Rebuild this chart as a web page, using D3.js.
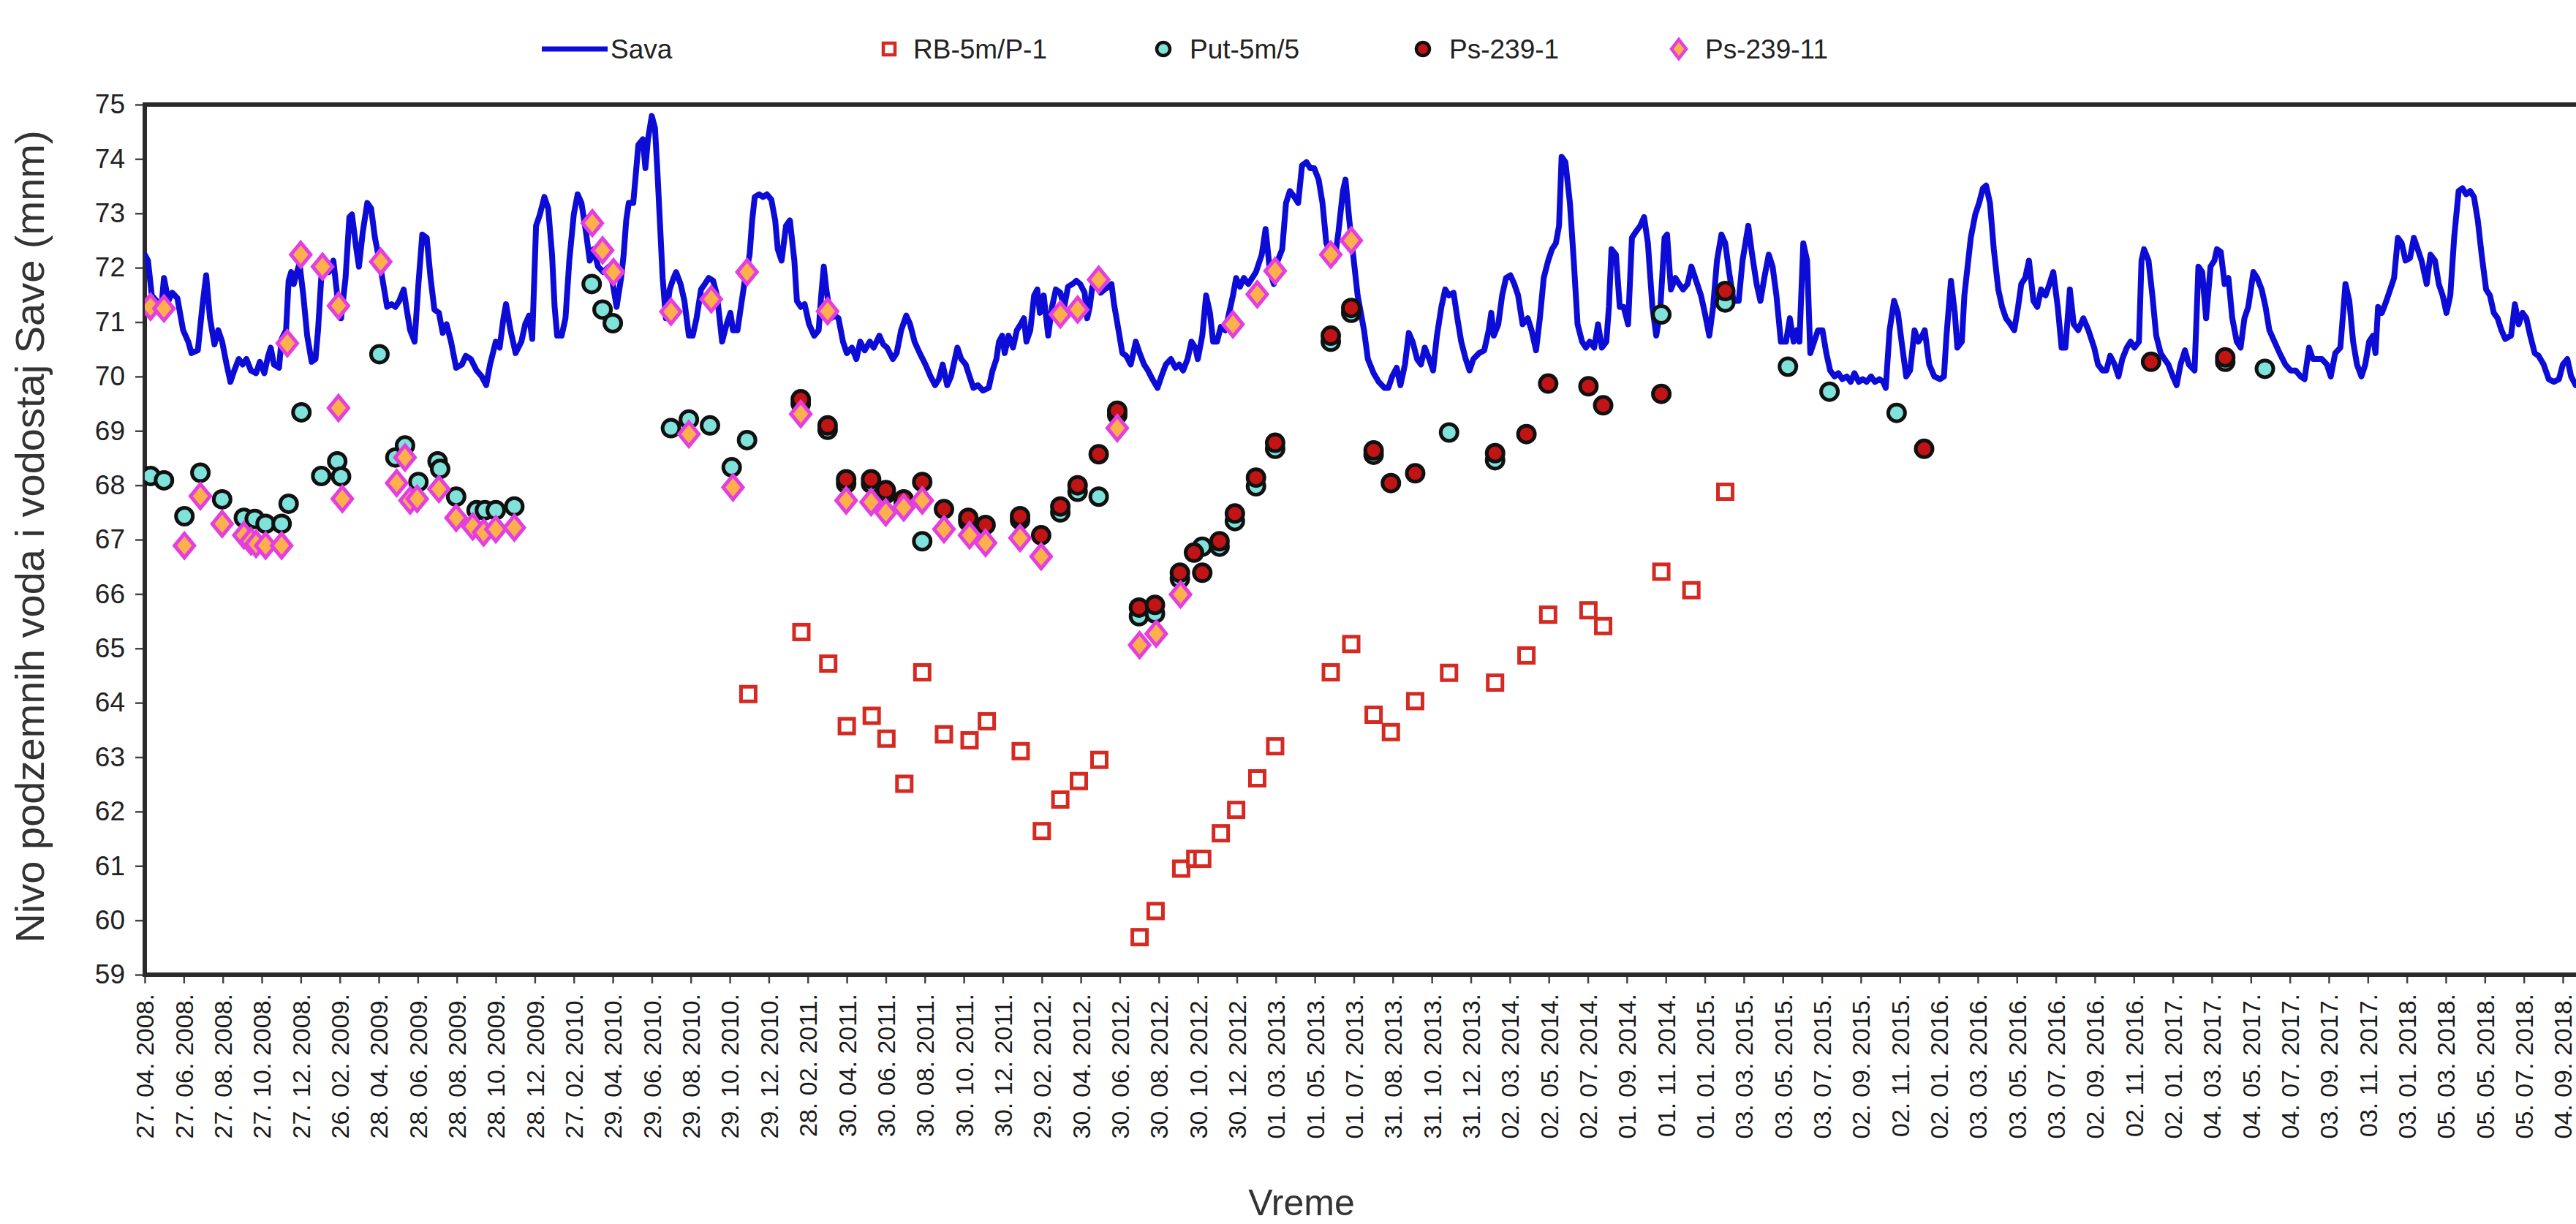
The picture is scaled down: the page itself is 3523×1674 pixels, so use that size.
<!DOCTYPE html>
<html><head><meta charset="utf-8">
<script src="https://cdn.jsdelivr.net/npm/d3@7"></script>
<style>html,body{margin:0;padding:0;background:#fff;overflow:hidden}</style>
</head><body><svg id="chart" width="3523" height="1674"></svg>
<script>
// day offsets are days since the first axis date, 27. 04. 2008.
const START_DATE = "27. 04. 2008.";
const tickLabels = ["27. 04. 2008.","27. 06. 2008.","27. 08. 2008.","27. 10. 2008.","27. 12. 2008.",
"26. 02. 2009.","28. 04. 2009.","28. 06. 2009.","28. 08. 2009.","28. 10. 2009.","28. 12. 2009.",
"27. 02. 2010.","29. 04. 2010.","29. 06. 2010.","29. 08. 2010.","29. 10. 2010.","29. 12. 2010.",
"28. 02. 2011.","30. 04. 2011.","30. 06. 2011.","30. 08. 2011.","30. 10. 2011.","30. 12. 2011.",
"29. 02. 2012.","30. 04. 2012.","30. 06. 2012.","30. 08. 2012.","30. 10. 2012.","30. 12. 2012.",
"01. 03. 2013.","01. 05. 2013.","01. 07. 2013.","31. 08. 2013.","31. 10. 2013.","31. 12. 2013.",
"02. 03. 2014.","02. 05. 2014.","02. 07. 2014.","01. 09. 2014.","01. 11. 2014.",
"01. 01. 2015.","03. 03. 2015.","03. 05. 2015.","03. 07. 2015.","02. 09. 2015.","02. 11. 2015.",
"02. 01. 2016.","03. 03. 2016.","03. 05. 2016.","03. 07. 2016.","02. 09. 2016.","02. 11. 2016.",
"02. 01. 2017.","04. 03. 2017.","04. 05. 2017.","04. 07. 2017.","03. 09. 2017.","03. 11. 2017.",
"03. 01. 2018.","05. 03. 2018.","05. 05. 2018.","05. 07. 2018.","04. 09. 2018."];
const yTicks = [59,60,61,62,63,64,65,66,67,68,69,70,71,72,73,74,75];
const seriesNames = ["Sava","RB-5m/P-1","Put-5m/5","Ps-239-1","Ps-239-11"];

// Sava river level [day, m]
const sava = [[0,72.24],[5,72.13],[11,71.49],[26,71.28],[30,71.81],[37,71.39],[43,71.54],[51,71.44],[60,70.85],[68,70.64],[73,70.43],[83,70.48],[90,71.28],[96,71.86],[102,71.07],[109,70.59],[115,70.85],[121,70.64],[128,70.22],[134,69.9],[140,70.11],[147,70.32],[153,70.22],[159,70.32],[166,70.11],[174,70.06],[180,70.27],[187,70.06],[193,70.38],[197,70.53],[202,70.22],[210,70.16],[214,70.69],[221,70.85],[225,71.76],[229,71.92],[233,71.7],[238,71.92],[242,72.08],[248,71.49],[254,70.75],[261,70.27],[267,70.32],[271,70.85],[276,71.81],[282,72.02],[288,71.92],[295,72.13],[301,71.49],[307,71.07],[314,71.81],[320,72.93],[324,72.98],[331,72.34],[335,72.02],[341,72.66],[348,73.19],[354,73.09],[360,72.55],[367,72.13],[373,71.7],[379,71.28],[386,71.33],[392,71.28],[398,71.39],[405,71.6],[409,71.28],[415,70.85],[422,70.64],[428,71.7],[434,72.61],[441,72.55],[447,71.81],[453,71.23],[460,71.17],[466,70.8],[472,70.96],[479,70.64],[487,70.16],[496,70.22],[502,70.38],[510,70.32],[519,70.11],[527,70.0],[534,69.84],[540,70.22],[549,70.64],[555,70.53],[561,71.07],[565,71.33],[572,70.85],[580,70.43],[589,70.64],[595,70.96],[601,71.12],[606,70.69],[612,72.77],[618,72.98],[625,73.3],[631,73.09],[637,72.24],
[641,71.28],[645,70.75],[652,70.75],[658,71.07],[664,72.13],[671,72.98],[677,73.35],[683,73.19],[690,72.66],[696,72.13],[702,72.34],[709,72.02],[717,71.92],[726,72.02],[732,71.7],[738,71.28],[745,71.81],[749,72.24],[753,72.87],[757,73.19],[764,73.19],[768,73.72],[772,74.26],[779,74.36],[783,73.83],[787,74.36],[793,74.79],[798,74.57],[802,73.72],[806,72.77],[810,71.81],[815,71.07],[821,71.6],[827,71.81],[831,71.92],[838,71.7],[844,71.39],[851,70.75],[857,70.75],[863,71.07],[870,71.6],[876,71.7],[882,71.81],[889,71.76],[895,71.49],[899,71.07],[903,70.64],[910,70.96],[916,71.17],[920,70.85],[927,70.85],[931,71.17],[935,71.49],[939,71.81],[946,72.24],[950,72.87],[954,73.3],[961,73.35],[967,73.3],[973,73.35],[980,73.25],[986,72.87],[990,72.34],[996,72.13],[1003,72.77],[1009,72.87],[1016,72.13],[1020,71.39],[1026,71.28],[1032,71.33],[1039,70.96],[1047,70.75],[1054,70.85],[1058,71.49],[1062,72.02],[1066,71.6],[1073,71.07],[1079,71.12],[1085,71.07],[1092,70.64],[1098,70.43],[1106,70.53],[1113,70.32],[1119,70.64],[1126,70.48],[1134,70.64],[1140,70.53],[1149,70.75],[1155,70.59],[1161,70.53],[1170,70.32],[1176,70.43],[1183,70.85],[1191,71.12],[1197,70.96],[1204,70.64],[1212,70.43],[1221,70.22],[1229,70.0],[1236,69.84],[1242,69.95],[1248,70.22],[1255,69.84],[1261,70.0],
[1267,70.32],[1271,70.53],[1277,70.32],[1284,70.22],[1290,70.0],[1296,69.79],[1303,69.84],[1311,69.74],[1320,69.79],[1326,70.11],[1332,70.32],[1336,70.64],[1341,70.75],[1345,70.43],[1351,70.75],[1358,70.53],[1364,70.85],[1370,70.96],[1375,71.07],[1379,70.64],[1385,70.85],[1391,71.49],[1396,71.6],[1400,71.17],[1406,71.49],[1413,70.75],[1419,71.28],[1425,71.6],[1432,71.54],[1438,71.28],[1444,71.65],[1451,71.7],[1457,71.76],[1463,71.7],[1470,71.54],[1474,71.07],[1478,71.28],[1482,71.65],[1489,71.7],[1495,71.54],[1501,71.6],[1508,71.65],[1512,71.7],[1516,71.33],[1523,70.85],[1529,70.43],[1535,70.38],[1542,70.22],[1550,70.64],[1556,70.43],[1563,70.22],[1569,70.11],[1576,69.95],[1584,69.79],[1590,70.0],[1597,70.22],[1605,70.32],[1612,70.16],[1618,70.22],[1624,70.11],[1631,70.32],[1637,70.64],[1643,70.53],[1647,70.32],[1654,70.75],[1660,71.49],[1666,71.17],[1671,70.64],[1677,70.64],[1683,70.91],[1690,70.85],[1696,71.17],[1702,71.49],[1707,71.81],[1713,71.65],[1719,71.81],[1726,71.7],[1732,71.81],[1738,71.92],[1747,72.24],[1753,72.71],[1760,71.92],[1766,71.7],[1772,72.13],[1779,72.34],[1785,73.19],[1791,73.41],[1798,73.3],[1804,73.19],[1810,73.88],[1817,73.94],[1823,73.83],[1829,73.83],[1836,73.62],[1842,73.19],[1848,72.45],[1855,72.24],[1861,72.13],[1867,72.66],[1874,73.41],[1878,73.62],[1884,72.87],[1891,72.13],[1897,71.49],
[1907,70.85],[1913,70.32],[1922,70.06],[1930,69.9],[1939,69.79],[1945,69.79],[1951,70.0],[1958,70.16],[1964,69.84],[1971,70.22],[1977,70.8],[1983,70.64],[1990,70.32],[1996,70.22],[2002,70.53],[2009,70.32],[2015,70.11],[2021,70.75],[2028,71.28],[2034,71.6],[2040,71.49],[2047,71.54],[2053,71.07],[2059,70.64],[2066,70.32],[2072,70.11],[2078,70.32],[2087,70.43],[2095,70.48],[2102,70.85],[2106,71.17],[2110,70.75],[2117,70.96],[2123,71.49],[2129,71.81],[2136,71.86],[2142,71.7],[2148,71.49],[2155,70.96],[2163,71.07],[2169,70.85],[2176,70.48],[2182,71.07],[2188,71.81],[2195,72.13],[2201,72.34],[2207,72.45],[2212,72.77],[2216,74.04],[2222,73.94],[2229,73.19],[2235,72.13],[2241,70.96],[2248,70.64],[2254,70.53],[2260,70.64],[2267,70.53],[2273,70.96],[2279,70.53],[2286,70.64],[2290,71.28],[2294,72.34],[2301,72.24],[2307,71.28],[2313,71.28],[2320,70.96],[2326,72.55],[2332,72.66],[2339,72.77],[2345,72.93],[2351,72.45],[2358,71.28],[2364,70.75],[2370,71.17],[2377,72.55],[2381,72.61],[2387,71.6],[2394,71.81],[2400,71.7],[2406,71.6],[2413,71.7],[2419,72.02],[2425,71.81],[2434,71.49],[2440,71.17],[2447,70.75],[2453,71.28],[2459,72.13],[2466,72.61],[2472,72.45],[2478,71.92],[2485,71.39],[2493,71.39],[2499,72.13],[2508,72.77],[2514,72.24],[2521,71.7],[2527,71.39],[2533,71.81],[2540,72.24],[2546,72.02],[2552,71.49],[2559,70.64],
[2567,70.64],[2573,71.07],[2579,70.64],[2584,70.85],[2588,70.64],[2594,72.45],[2600,72.13],[2605,70.43],[2611,70.64],[2617,70.85],[2624,70.85],[2630,70.43],[2636,70.11],[2643,70.0],[2649,70.06],[2655,69.95],[2662,70.0],[2668,69.9],[2674,70.06],[2681,69.9],[2687,69.95],[2693,69.9],[2700,70.0],[2706,69.9],[2713,69.95],[2719,69.9],[2723,69.79],[2729,70.85],[2736,71.39],[2742,71.17],[2749,70.53],[2755,70.0],[2761,70.11],[2768,70.85],[2774,70.64],[2780,70.75],[2784,70.85],[2791,70.22],[2799,70.0],[2808,69.95],[2814,70.0],[2818,70.75],[2825,71.76],[2831,71.17],[2835,70.53],[2842,70.64],[2846,71.49],[2852,72.13],[2856,72.55],[2863,72.98],[2869,73.19],[2875,73.46],[2880,73.51],[2886,73.19],[2892,72.34],[2899,71.6],[2905,71.28],[2911,71.07],[2918,70.96],[2924,70.85],[2930,71.28],[2935,71.7],[2941,71.81],[2947,72.13],[2954,71.39],[2960,71.28],[2966,71.6],[2973,71.49],[2979,71.7],[2985,71.92],[2992,71.28],[2998,70.53],[3004,70.53],[3011,71.6],[3017,70.96],[3024,70.85],[3032,71.07],[3040,70.85],[3049,70.53],[3055,70.22],[3062,70.11],[3068,70.11],[3074,70.38],[3081,70.22],[3087,70.0],[3093,70.32],[3100,70.53],[3106,70.64],[3112,70.53],[3119,70.64],[3123,72.13],[3127,72.34],[3134,72.13],[3140,71.49],[3146,70.75],[3153,70.43],[3159,70.32],[3165,70.22],[3172,70.0],[3178,69.84],[3184,70.22],[3191,70.48],[3197,70.22],
[3206,70.11],[3212,72.02],[3218,71.92],[3224,71.07],[3231,72.02],[3237,72.13],[3241,72.34],[3247,72.29],[3253,71.7],[3259,71.81],[3265,71.07],[3272,70.64],[3278,70.53],[3284,71.07],[3290,71.28],[3298,71.92],[3304,71.81],[3311,71.6],[3317,71.28],[3323,70.85],[3331,70.64],[3339,70.43],[3348,70.22],[3356,70.11],[3364,70.11],[3372,70.0],[3378,69.95],[3385,70.53],[3391,70.32],[3397,70.32],[3405,70.32],[3413,70.22],[3419,70.0],[3426,70.43],[3434,70.53],[3442,71.7],[3448,71.39],[3454,70.64],[3460,70.22],[3467,70.0],[3473,70.22],[3479,70.64],[3485,70.75],[3489,70.43],[3493,71.28],[3499,71.17],[3506,71.39],[3512,71.6],[3518,71.81],[3524,72.55],[3530,72.45],[3536,72.13],[3543,72.18],[3549,72.55],[3555,72.34],[3561,72.13],[3569,71.7],[3575,72.24],[3582,72.13],[3588,71.7],[3594,71.49],[3600,71.17],[3606,71.49],[3612,72.55],[3619,73.41],[3625,73.46],[3631,73.35],[3637,73.41],[3643,73.3],[3649,72.87],[3655,72.24],[3662,71.6],[3668,71.49],[3674,71.17],[3680,71.07],[3686,70.85],[3692,70.69],[3701,70.75],[3707,71.33],[3713,70.96],[3719,71.17],[3725,71.07],[3731,70.75],[3738,70.43],[3744,70.38],[3752,70.22],[3760,69.95],[3768,69.9],[3776,69.95],[3782,70.22],[3789,70.32],[3795,70.0],[3802,69.84]];

const rb5mP1 = [[944,64.16],[1027,65.30],[1069,64.72],[1098,63.57],[1137,63.76],[1160,63.34],[1188,62.51],[1216,64.56],[1250,63.42],[1290,63.31],[1317,63.66],[1370,63.11],[1403,61.64],[1432,62.22],[1461,62.56],[1493,62.95],[1556,59.69],[1581,60.17],[1621,60.95],[1643,61.13],[1654,61.13],[1683,61.60],[1707,62.03],[1740,62.61],[1768,63.20],[1855,64.56],[1887,65.08],[1922,63.78],[1949,63.46],[1987,64.03],[2040,64.55],[2112,64.37],[2161,64.87],[2195,65.62],[2258,65.70],[2281,65.41],[2372,66.41],[2419,66.07],[2472,67.88]];

const put5m5 = [[9,68.17],[30,68.09],[62,67.43],[87,68.23],[121,67.74],[155,67.40],[172,67.38],[189,67.29],[214,67.29],[225,67.66],[245,69.34],[276,68.17],[301,68.44],[307,68.16],[367,70.41],[392,68.51],[407,68.73],[428,68.06],[458,68.44],[462,68.30],[487,67.79],[519,67.54],[532,67.54],[549,67.54],[578,67.61],[699,71.70],[716,71.23],[732,70.98],[823,69.05],[851,69.21],[884,69.10],[918,68.33],[942,68.83],[1026,69.50],[1068,69.02],[1097,68.03],[1136,68.03],[1159,67.84],[1187,67.67],[1216,66.97],[1288,67.33],[1369,67.36],[1432,67.50],[1459,67.88],[1492,67.79],[1521,69.29],[1555,65.59],[1580,65.64],[1619,66.28],[1654,66.87],[1681,66.87],[1705,67.34],[1738,67.98],[1768,68.67],[1855,70.64],[1887,71.17],[1922,68.56],[2040,68.97],[2112,68.46],[2372,71.14],[2472,71.36],[2570,70.18],[2635,69.72],[2740,69.33],[3254,70.27],[3316,70.14]];

const ps2391 = [[1026,69.58],[1068,69.10],[1097,68.11],[1136,68.11],[1159,67.91],[1187,67.74],[1216,68.06],[1250,67.56],[1288,67.40],[1315,67.27],[1369,67.43],[1402,67.08],[1432,67.61],[1459,68.00],[1492,68.57],[1521,69.37],[1555,65.75],[1580,65.80],[1619,66.39],[1641,66.76],[1654,66.39],[1681,66.97],[1705,67.48],[1738,68.14],[1768,68.78],[1855,70.75],[1887,71.26],[1922,68.64],[1949,68.04],[1987,68.22],[2112,68.59],[2161,68.94],[2195,69.87],[2258,69.82],[2281,69.47],[2372,69.68],[2472,71.57],[2783,68.67],[3138,70.27],[3254,70.35]];

const ps23911 = [[9,71.28],[30,71.25],[62,66.89],[87,67.80],[121,67.29],[155,67.08],[166,66.97],[174,66.92],[189,66.89],[214,66.89],[223,70.61],[244,72.24],[278,72.02],[303,71.30],[303,69.42],[309,67.75],[369,72.11],[394,68.04],[407,68.51],[415,67.72],[426,67.75],[460,67.93],[487,67.40],[513,67.24],[530,67.13],[549,67.19],[578,67.22],[700,72.82],[716,72.32],[733,71.92],[823,71.19],[851,68.94],[886,71.42],[920,67.96],[942,71.92],[1026,69.31],[1068,71.20],[1097,67.72],[1136,67.69],[1159,67.50],[1187,67.59],[1216,67.72],[1250,67.19],[1290,67.08],[1315,66.94],[1369,67.03],[1402,66.69],[1432,71.14],[1459,71.23],[1492,71.78],[1521,69.05],[1556,65.06],[1582,65.27],[1620,65.99],[1702,70.96],[1740,71.51],[1768,71.94],[1855,72.24],[1887,72.50]];

// ---------- drawing ----------
const W = 3523, H = 1674;
const M = {left: 198, top: 143, bottom: 1333};
const parse = d3.utcParse("%d. %m. %Y.");
const t0 = parse(START_DATE);
const dayToDate = d => d3.utcDay.offset(t0, d);
const tickDates = tickLabels.map(parse);

const x = d3.scaleUtc().domain([tickDates[0], tickDates[tickDates.length - 1]]).range([198, 3505]);
const y = d3.scaleLinear().domain([59, 75]).range([M.bottom, M.top]);

const svg = d3.select("#chart");
const FONT = "'Liberation Sans', Arial, sans-serif";
const SAVA_BLUE = "#0c0cd6";
const RB_RED = "#d42a22";
const CYAN = "#7fe3dc";
const DARKRED = "#c21414";
const MAGENTA = "#e43ee0";
const ORANGE = "#ffb04a";

svg.append("rect").attr("width", W).attr("height", H).attr("fill", "#fff");

svg.append("clipPath").attr("id", "plotclip")
  .append("rect").attr("x", M.left).attr("y", M.top - 4).attr("width", W - M.left).attr("height", M.bottom - M.top + 8);

// y axis
const yAxis = d3.axisLeft(y).tickValues(yTicks).tickSize(13).tickPadding(14).tickFormat(d3.format("d"));
const gy = svg.append("g").attr("transform", `translate(${M.left},0)`).call(yAxis);
gy.select(".domain").remove();
gy.selectAll(".tick line").attr("stroke", "#444").attr("stroke-width", 2.5);
gy.selectAll(".tick text").attr("font-family", FONT).attr("font-size", 37).attr("fill", "#222");

// x axis
const xAxis = d3.axisBottom(x).tickValues(tickDates).tickSize(12).tickFormat((d, i) => tickLabels[i]);
const gx = svg.append("g").attr("transform", `translate(0,${M.bottom})`).call(xAxis);
gx.select(".domain").remove();
gx.selectAll(".tick line").attr("stroke", "#444").attr("stroke-width", 2.5);
gx.selectAll(".tick text")
  .attr("font-family", FONT).attr("font-size", 34).attr("fill", "#1a1a1a")
  .attr("text-anchor", "end").attr("dy", "0.35em")
  .attr("transform", "translate(0,26) rotate(-90)")
  .attr("x", 0).attr("y", 0);

// plot frame
svg.append("path")
  .attr("d", `M${W + 20},${M.top}H${M.left}V${M.bottom}H${W + 20}`)
  .attr("fill", "none").attr("stroke", "#2a2a2a").attr("stroke-width", 6);

const plot = svg.append("g").attr("clip-path", "url(#plotclip)");

// Sava line
plot.append("path")
  .datum(sava)
  .attr("d", d3.line().x(d => x(dayToDate(d[0]))).y(d => y(d[1])))
  .attr("fill", "none").attr("stroke", SAVA_BLUE).attr("stroke-width", 8)
  .attr("stroke-linejoin", "round").attr("stroke-linecap", "round");

// markers
function square(g, data) {
  g.selectAll("rect.rb").data(data).join("rect").attr("class", "rb")
    .attr("x", d => x(dayToDate(d[0])) - 10).attr("y", d => y(d[1]) - 10)
    .attr("width", 20).attr("height", 20)
    .attr("fill", "#fff").attr("stroke", RB_RED).attr("stroke-width", 5);
}
function circle(g, data, fill, cls) {
  g.selectAll("circle." + cls).data(data).join("circle").attr("class", cls)
    .attr("cx", d => x(dayToDate(d[0]))).attr("cy", d => y(d[1])).attr("r", 11.5)
    .attr("fill", fill).attr("stroke", "#111").attr("stroke-width", 5);
}
const diamondPath = "M0,-16.5L13.5,0L0,16.5L-13.5,0Z";
function diamond(g, data) {
  g.selectAll("path.dm").data(data).join("path").attr("class", "dm")
    .attr("transform", d => `translate(${x(dayToDate(d[0]))},${y(d[1])})`)
    .attr("d", diamondPath)
    .attr("fill", ORANGE).attr("stroke", MAGENTA).attr("stroke-width", 5).attr("stroke-linejoin", "miter");
}
square(plot.append("g"), rb5mP1);
circle(plot.append("g"), put5m5, CYAN, "put");
circle(plot.append("g"), ps2391, DARKRED, "ps1");
diamond(plot.append("g"), ps23911);

// axis titles
svg.append("text")
  .attr("transform", `translate(40,${(M.top + M.bottom) / 2 - 4}) rotate(-90)`)
  .attr("text-anchor", "middle").attr("dominant-baseline", "central")
  .attr("font-family", FONT).attr("font-size", 56).attr("fill", "#333")
  .text("Nivo podzemnih voda i vodostaj Save (mnm)");
svg.append("text")
  .attr("x", 1780).attr("y", 1662).attr("text-anchor", "middle")
  .attr("font-family", FONT).attr("font-size", 50).attr("fill", "#333")
  .text("Vreme");

// legend
const legendY = 67;
const legendX = [741, 1216, 1591, 1946, 2296];
const leg = svg.append("g");
seriesNames.forEach((name, i) => {
  const g = leg.append("g").attr("transform", `translate(${legendX[i]},${legendY})`);
  let textX;
  if (i === 0) {
    g.append("line").attr("x1", 0).attr("x2", 90).attr("y1", 0).attr("y2", 0)
      .attr("stroke", SAVA_BLUE).attr("stroke-width", 7);
    textX = 94;
  } else if (i === 1) {
    g.append("rect").attr("x", -8).attr("y", -8).attr("width", 16).attr("height", 16)
      .attr("fill", "#fff").attr("stroke", RB_RED).attr("stroke-width", 4.5);
    textX = 33;
  } else if (i === 2 || i === 3) {
    g.append("circle").attr("r", 9).attr("fill", i === 2 ? CYAN : DARKRED)
      .attr("stroke", "#111").attr("stroke-width", 4.5);
    textX = 36;
  } else {
    g.append("path").attr("d", "M0,-13L10,0L0,13L-10,0Z").attr("fill", ORANGE)
      .attr("stroke", MAGENTA).attr("stroke-width", 4.5);
    textX = 36;
  }
  g.append("text").attr("x", textX).attr("y", 0).attr("dominant-baseline", "central")
    .attr("font-family", FONT).attr("font-size", 37).attr("fill", "#222").text(name);
});
</script></body></html>
